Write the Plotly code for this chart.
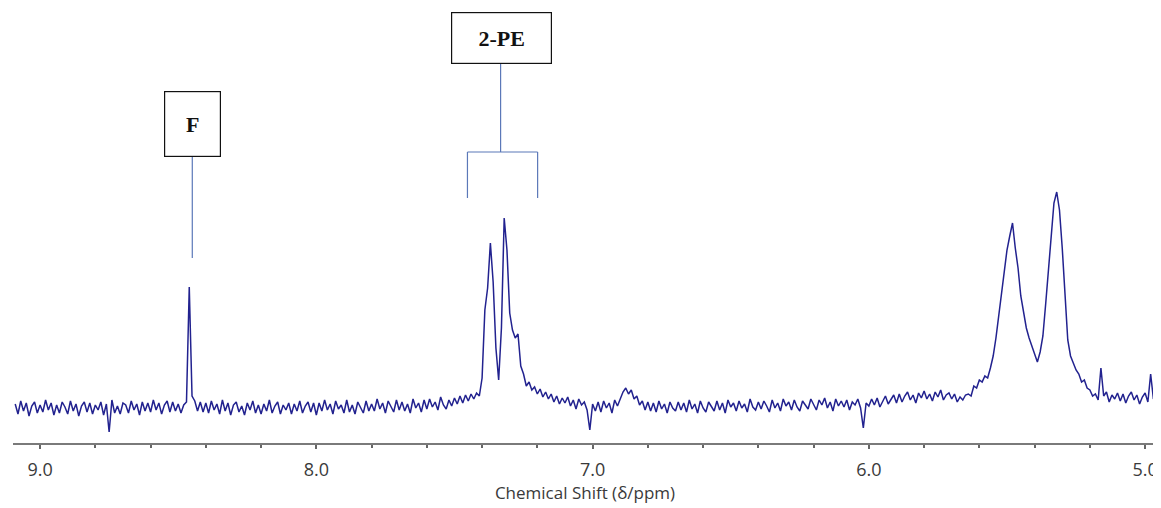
import plotly.graph_objects as go

# ---- data: 1H NMR intensities (arbitrary units), sampled every 0.01 ppm from 9.09 ppm down to 4.96 ppm
start_ppm = 9.09
step_ppm = 0.01

seg_a = [  # 9.09 - 8.50 baseline
    4, -6, 7, -3, 5, -8, 2, 6, -5, 3,
    -4, 8, -2, 5, -7, 3, -5, 6, 1, -6,
    7, -3, 4, -8, 2, 6, -4, 5, -6, 3,
    -2, 6, -7, 4, -24, 8, -5, 2, -6, 5,
    3, -5, 7, -2, 4, -7, 6, -3, 5, -4,
    8, -2, 5, -6, 3, 7, -4, 6, -3, 4,
]
seg_f = [  # 8.49 - 8.40, F peak
    -5, 3, 6, 121, 12, 7, -3, 6, -4, 5,
]
seg_b = [  # 8.39 - 7.50 baseline
    -5, 7, -2, 4, -6, 8, -3, 5, -7, 3,
    6, -4, 2, -7, 5, -2, 7, -5, 3, -6,
    4, -3, 8, -5, 2, 6, -6, 3, -2, 5,
    -6, 4, -3, 7, -5, 2, 6, -4, 5, -7,
    5, -3, 8, -2, 4, -6, 7, -1, 3, -5,
    8, -4, 3, -6, 6, 0, -5, 7, -3, 4,
    -3, 9, -1, 5, -5, 7, 1, -4, 8, -2,
    6, -3, 4, -5, 9, 0, 5, -4, 8, -1,
    9, 1, 6, -2, 11, 3, -1, 8, 2, 10,
]
seg_pe = [  # 7.49 - 7.20, 2-PE aromatic multiplet
    4, 12, 5, 13, 7, 14, 9, 15, 12, 30,
    98, 120, 165, 126, 60, 28, 80, 190, 158, 95,
    78, 70, 74, 42, 34, 22, 26, 18, 21, 14,
]
seg_c = [  # 7.19 - 5.70 baseline
    19, 11, 16, 9, 14, 6, 12, 4, 10, 5,
    11, 2, 8, -1, 9, 3, 6, -2, -22, 4,
    -3, 6, -4, 7, 0, 5, -5, 8, 2, 10,
    16, 20, 14, 18, 9, 12, 3, 7, -2, 6,
    -3, 5, -4, 7, -1, 4, -5, 6, 0, -3,
    6, -2, 5, -4, 8, -1, 4, -5, 7, 0,
    -4, 6, 1, -3, 7, -2, 5, -5, 8, 1,
    5, -3, 7, 0, 4, -4, 9, 1, -2, 6,
    -1, 7, 2, -4, 8, 0, 5, -3, 9, 2,
    6, -2, 8, 1, -3, 7, 3, -1, 9, 4,
    -2, 8, 3, 10, 0, 6, -3, 9, 2, 7,
    1, 8, -2, 6, 3, 9, 0, -20, 5, 2,
    9, 3, 10, 1, 7, 12, 4, 8, 13, 5,
    14, 6, 12, 16, 8, 13, 5, 15, 10, 17,
    9, 14, 7, 16, 11, 18, 8, 13, 15, 9,
]
seg_ol = [  # 5.69 - 5.20, olefinic peaks
    14, 6, 11, 8, 13, 14, 12, 22, 20, 28,
    26, 32, 30, 40, 52, 70, 92, 118, 140, 158,
    172, 185, 160, 140, 112, 96, 80, 70, 62, 55,
    46, 56, 72, 104, 138, 172, 205, 216, 198, 160,
    115, 68, 52, 44, 38, 34, 26, 28, 20, 18,
]
seg_d = [  # 5.19 - 4.96 baseline
    12, 14, 8, 40, 12, 16, 6, 13, 9, 15,
    7, 14, 5, 12, 16, 8, 13, 4, 11, 15,
    6, 34, 9, 13,
]

intensity = seg_a + seg_f + seg_b + seg_pe + seg_c + seg_ol + seg_d
shift = [round(start_ppm - step_ppm * i, 2) for i in range(len(intensity))]

tick_vals = [9.0, 8.0, 7.0, 6.0, 5.0]
tick_text = ["9.0", "8.0", "7.0", "6.0", "5.0"]
x_title = "Chemical Shift (δ/ppm)"

# annotation anchors (ppm, intensity)
f_label = {"text": "F", "x": 8.45, "y": 284}
pe_label = {"text": "2-PE", "x": 7.328, "y": 370}
f_line = (8.449, 150, 251)
pe_stem = (7.333, 256, 344)
pe_bracket = (7.453, 7.199, 210, 256)

line_col = "#5b78b8"

fig = go.Figure()
fig.add_trace(go.Scatter(
    x=shift, y=intensity, mode="lines",
    line=dict(color="#22228f", width=1.5),
    hoverinfo="skip", showlegend=False,
))

shapes = [
    dict(type="line", x0=f_line[0], x1=f_line[0], y0=f_line[1], y1=f_line[2]),
    dict(type="line", x0=pe_stem[0], x1=pe_stem[0], y0=pe_stem[1], y1=pe_stem[2]),
    dict(type="line", x0=pe_bracket[0], x1=pe_bracket[1], y0=pe_bracket[3], y1=pe_bracket[3]),
    dict(type="line", x0=pe_bracket[0], x1=pe_bracket[0], y0=pe_bracket[2], y1=pe_bracket[3]),
    dict(type="line", x0=pe_bracket[1], x1=pe_bracket[1], y0=pe_bracket[2], y1=pe_bracket[3]),
]
for s in shapes:
    s.update(xref="x", yref="y", line=dict(color=line_col, width=1.2))
fig.update_layout(shapes=shapes)

fig.add_annotation(x=f_label["x"], y=f_label["y"], xref="x", yref="y",
                   text="<b>" + f_label["text"] + "</b>", showarrow=False,
                   width=55, height=64, borderpad=0, yshift=0,
                   bordercolor="#111111", borderwidth=1.2, bgcolor="white",
                   font=dict(family="Liberation Serif", size=22, color="#111111"))
fig.add_annotation(x=pe_label["x"], y=pe_label["y"], xref="x", yref="y",
                   text="<b>" + pe_label["text"] + "</b>", showarrow=False,
                   width=99, height=50, borderpad=0,
                   bordercolor="#111111", borderwidth=1.2, bgcolor="white",
                   font=dict(family="Liberation Serif", size=22, color="#111111"))

# the page body adds an 8 px offset, so the figure is 8 px smaller than the window
fig.update_layout(
    width=1153, height=500,
    margin=dict(l=5, r=4, t=0, b=65),
    paper_bgcolor="white", plot_bgcolor="white",
    xaxis=dict(
        range=[9.098, 4.957], automargin=False,
        tickvals=tick_vals, ticktext=tick_text,
        ticks="outside", ticklen=4, tickwidth=1.5, tickcolor="#666666",
        minor=dict(dtick=0.2, tick0=5.0, ticks="outside", ticklen=3, tickwidth=1.5, tickcolor="#666666"),
        showline=True, linecolor="#7a7a7a", linewidth=2,
        showgrid=False, zeroline=False,
        ticklabelstandoff=5,
        tickfont=dict(family="Open Sans", size=18, color="#3a3a3a"),
        title=dict(text=x_title, font=dict(family="Open Sans", size=17, color="#3a3a3a"), standoff=1),
    ),
    yaxis=dict(range=[-35, 400], visible=False, showgrid=False, zeroline=False, automargin=False),
)

fig.write_html("out.html")
